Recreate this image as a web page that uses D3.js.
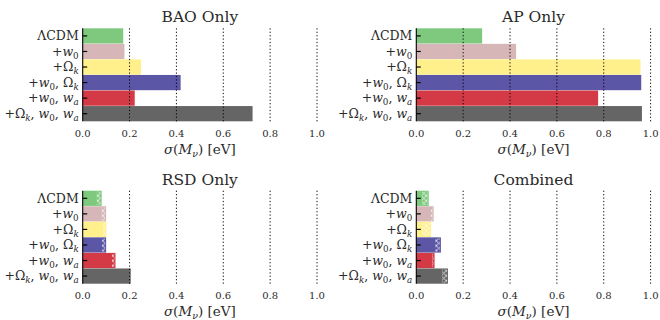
<!DOCTYPE html>
<html>
<head>
<meta charset="utf-8">
<script src="https://cdn.jsdelivr.net/npm/d3@7"></script>
<style>
  html, body { margin: 0; padding: 0; background: #fff; }
  svg { display: block; }
  svg text { font-family: "DejaVu Serif", serif; fill: #2a2a2a; }
</style>
</head>
<body>
<svg id="chart" width="660" height="320"></svg>
<script>
// Model extensions (rows, top to bottom)
const models = ["LCDM", "w0", "Ok", "w0Ok", "w0wa", "Okw0wa"];

// Row labels split into pieces: r = upright, i = italic, s = upright subscript, si = italic subscript
const modelLabels = [
  [["ΛCDM", "r"]],
  [["+", "r"], ["w", "i"], ["0", "s"]],
  [["+Ω", "r"], ["k", "si"]],
  [["+", "r"], ["w", "i"], ["0", "s"], [", Ω", "r"], ["k", "si"]],
  [["+", "r"], ["w", "i"], ["0", "s"], [", ", "r"], ["w", "i"], ["a", "si"]],
  [["+Ω", "r"], ["k", "si"], [", ", "r"], ["w", "i"], ["0", "s"], [", ", "r"], ["w", "i"], ["a", "si"]]
];

const modelColors = ["#7fc97f", "#d6b6b6", "#fff08c", "#5b56a5", "#d33a46", "#656565"];

// sigma(M_nu) in eV: full (hatched) extent and solid extent for each probe
const baoHatched = [0.173, 0.178, 0.249, 0.418, 0.222, 0.725];
const baoSolid   = [0.173, 0.178, 0.249, 0.418, 0.222, 0.725];
const apHatched  = [0.281, 0.426, 0.957, 0.960, 0.776, 0.963];
const apSolid    = [0.281, 0.426, 0.957, 0.960, 0.776, 0.963];
const rsdHatched = [0.081, 0.100, 0.101, 0.100, 0.140, 0.205];
const rsdSolid   = [0.060, 0.081, 0.087, 0.083, 0.125, 0.200];
const combHatched = [0.053, 0.074, 0.063, 0.105, 0.078, 0.135];
const combSolid   = [0.024, 0.062, 0.024, 0.081, 0.067, 0.110];

const panelTitles = ["BAO Only", "AP Only", "RSD Only", "Combined"];
const xTicks = [0.0, 0.2, 0.4, 0.6, 0.8, 1.0];

const panels = [
  { title: panelTitles[0], hatched: baoHatched, solid: baoSolid, left: 82.7, top: 28.3 },
  { title: panelTitles[1], hatched: apHatched, solid: apSolid, left: 416.3, top: 28.3 },
  { title: panelTitles[2], hatched: rsdHatched, solid: rsdSolid, left: 82.7, top: 190.7 },
  { title: panelTitles[3], hatched: combHatched, solid: combSolid, left: 416.3, top: 190.7 }
];
const plotW = 234.3, plotH = 93;

const svg = d3.select("#chart");

// white cross-hatch pattern
const defs = svg.append("defs");
const pat = defs.append("pattern")
  .attr("id", "xhatch")
  .attr("patternUnits", "userSpaceOnUse")
  .attr("width", 5).attr("height", 5);
pat.append("path")
  .attr("d", "M0,0 L5,5 M5,0 L0,5 M-1,4 L1,6 M4,-1 L6,1 M-1,1 L1,-1 M4,6 L6,4")
  .attr("stroke", "#fff").attr("stroke-width", 0.9).attr("fill", "none");

function richText(sel, parts, baseSize) {
  let shifted = false;
  parts.forEach(([t, style]) => {
    const sp = sel.append("tspan").text(t);
    const isSub = style === "s" || style === "si";
    if (style === "i" || style === "si") sp.attr("font-style", "italic");
    if (isSub) {
      sp.attr("font-size", baseSize * 0.7);
      if (!shifted) { sp.attr("dy", 3); shifted = true; }
    } else if (shifted) {
      sp.attr("dy", -3); shifted = false;
    }
  });
}

panels.forEach(p => {
  const x = d3.scaleLinear().domain([0, 1]).range([0, plotW]);
  const y = d3.scaleBand().domain(models).range([0, plotH]).paddingInner(0.02);

  const g = svg.append("g").attr("transform", `translate(${p.left},${p.top})`);

  // bars: full extent, then hatched overlay beyond the solid part
  g.selectAll("rect.bar").data(models).join("rect")
    .attr("class", "bar")
    .attr("x", x(0))
    .attr("y", d => y(d))
    .attr("width", (d, i) => x(p.hatched[i]) - x(0))
    .attr("height", y.bandwidth())
    .attr("fill", (d, i) => modelColors[i]);

  g.selectAll("rect.hatch").data(models).join("rect")
    .attr("class", "hatch")
    .attr("x", (d, i) => x(p.solid[i]))
    .attr("y", d => y(d) + 1)
    .attr("width", (d, i) => Math.max(0, x(p.hatched[i]) - x(p.solid[i]) - 1))
    .attr("height", y.bandwidth() - 2)
    .attr("fill", "url(#xhatch)")
    .attr("opacity", (d, i) => (p.hatched[i] - p.solid[i]) > 0.001 ? 0.85 : 0);

  // dotted vertical grid
  g.selectAll("line.grid").data(xTicks.slice(1)).join("line")
    .attr("class", "grid")
    .attr("x1", d => x(d)).attr("x2", d => x(d))
    .attr("y1", 0).attr("y2", plotH)
    .attr("stroke", "#000").attr("stroke-width", 1)
    .attr("stroke-dasharray", "1.2,2.2");

  // left spine and inward ticks
  g.append("line")
    .attr("x1", 0).attr("x2", 0).attr("y1", 0).attr("y2", plotH)
    .attr("stroke", "#000").attr("stroke-width", 1.1);
  g.selectAll("line.ytick").data(models).join("line")
    .attr("class", "ytick")
    .attr("x1", 0).attr("x2", 4.5)
    .attr("y1", d => y(d) + y.bandwidth() / 2)
    .attr("y2", d => y(d) + y.bandwidth() / 2)
    .attr("stroke", "#000").attr("stroke-width", 1.2);

  // row labels
  models.forEach((m, i) => {
    const t = g.append("text")
      .attr("x", -4)
      .attr("y", y(m) + y.bandwidth() / 2 + 4.2)
      .attr("text-anchor", "end")
      .attr("font-size", 12.5);
    richText(t, modelLabels[i], 12.5);
  });

  // x tick labels
  g.selectAll("text.xt").data(xTicks).join("text")
    .attr("class", "xt")
    .attr("x", d => x(d))
    .attr("y", plotH + 15.5)
    .attr("text-anchor", "middle")
    .attr("font-size", 10)
    .text(d => d3.format(".1f")(d));

  // x axis label
  const xl = g.append("text")
    .attr("x", plotW / 2)
    .attr("y", plotH + 32.5)
    .attr("text-anchor", "middle")
    .attr("font-size", 13.5);
  richText(xl, [["σ", "i"], ["(", "r"], ["M", "i"], ["ν", "si"], [") [eV]", "r"]], 13.5);

  // title
  g.append("text")
    .attr("x", plotW / 2)
    .attr("y", -6)
    .attr("text-anchor", "middle")
    .attr("font-size", 15.5)
    .text(p.title);
});
</script>
</body>
</html>
